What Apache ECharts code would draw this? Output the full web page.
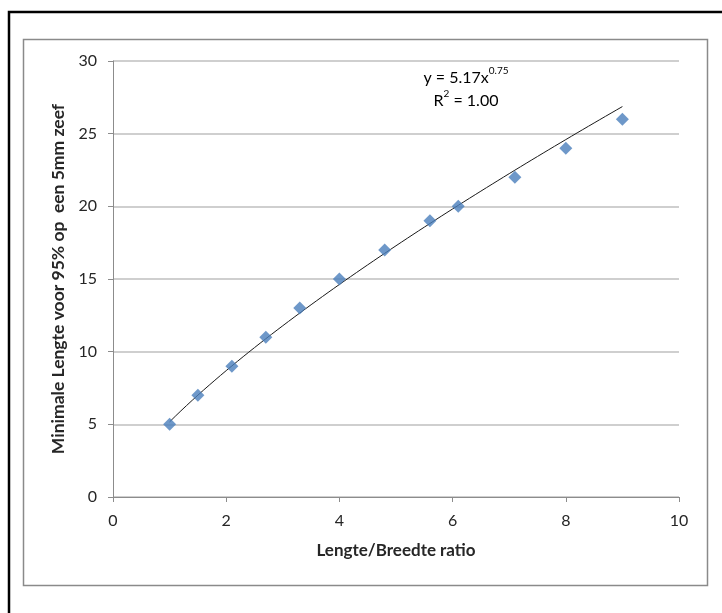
<!DOCTYPE html>
<html>
<head>
<meta charset="utf-8">
<script src="https://cdn.jsdelivr.net/npm/echarts@6/dist/echarts.min.js"></script>
<style>
  html, body { margin: 0; padding: 0; background: #fff; }
  #chart { width: 722px; height: 613px; }
</style>
</head>
<body>
<div id="chart"></div>
<script>
// Measured sieve data: length/width ratio vs. minimal length for 95% retention on a 5 mm sieve
const ratio     = [1, 1.5, 2.1, 2.7, 3.3, 4, 4.8, 5.6, 6.1, 7.1, 8, 9];
const minLength = [5, 7, 9, 11, 13, 15, 17, 19, 20, 22, 24, 26];

// Power trendline y = a * x^b, as reported on the chart
const fitA = 5.17;
const fitB = 0.75;
const fitR2 = '1.00';

const xTicks = [0, 2, 4, 6, 8, 10];
const yTicks = [0, 5, 10, 15, 20, 25, 30];

const xTitle = 'Lengte/Breedte ratio';
const yTitle = 'Minimale Lengte voor 95% op  een 5mm zeef';

const scatterData = ratio.map((x, i) => [x, minLength[i]]);

// Trendline sampled over the measured x range
const trendData = [];
const xStart = ratio[0], xEnd = ratio[ratio.length - 1];
const steps = 80;
for (let i = 0; i <= steps; i++) {
  const x = xStart + (xEnd - xStart) * i / steps;
  trendData.push([x, fitA * Math.pow(x, fitB)]);
}

const FONT = 'Lato, "Open Sans", sans-serif';
const TEXT = '#262626';

const chart = echarts.init(document.getElementById('chart'), null, { renderer: 'canvas' });

chart.setOption({
  animation: false,
  backgroundColor: '#ffffff',
  grid: { left: 113, right: 43, top: 61, bottom: 116, containLabel: false },
  xAxis: {
    type: 'value',
    min: xTicks[0],
    max: xTicks[xTicks.length - 1],
    interval: 2,
    name: xTitle,
    nameLocation: 'middle',
    nameGap: 45,
    nameTextStyle: { fontFamily: FONT, fontSize: 17, fontWeight: 'bold', color: TEXT },
    axisLine: { show: true, onZero: false, lineStyle: { color: '#8c8c8c', width: 1 } },
    axisTick: { show: true, inside: false, length: 5, lineStyle: { color: '#8c8c8c' } },
    axisLabel: { fontFamily: FONT, fontSize: 16, color: TEXT, margin: 16 },
    splitLine: { show: false }
  },
  yAxis: {
    type: 'value',
    min: yTicks[0],
    max: yTicks[yTicks.length - 1],
    interval: 5,
    name: yTitle,
    nameLocation: 'middle',
    nameGap: 44,
    nameRotate: 90,
    nameTextStyle: { fontFamily: FONT, fontSize: 17.5, fontWeight: 'bold', color: TEXT },
    axisLine: { show: true, lineStyle: { color: '#8c8c8c', width: 1 } },
    axisTick: { show: true, inside: false, length: 5, lineStyle: { color: '#8c8c8c' } },
    axisLabel: { fontFamily: FONT, fontSize: 16, color: TEXT, margin: 16 },
    splitLine: { show: true, lineStyle: { color: '#bfbfbf', width: 1.5 } }
  },
  graphic: [
    // outer black frame
    {
      type: 'rect', silent: true, z: 100,
      shape: { x: 9, y: 12, width: 730, height: 620 },
      style: { fill: 'none', stroke: '#000', lineWidth: 2.5 }
    },
    // chart area border
    {
      type: 'rect', silent: true, z: 100,
      shape: { x: 23.5, y: 39.5, width: 684, height: 546 },
      style: { fill: 'none', stroke: '#8a8a8a', lineWidth: 1.5 }
    },
    // trendline label
    {
      type: 'text', silent: true, z: 100,
      x: 466, y: 66,
      style: {
        text: '{m|y = 5.17x}{s|0.75}\n{m|R}{s|2}{m| = ' + fitR2 + '}',
        align: 'center',
        verticalAlign: 'top',
        lineHeight: 23,
        rich: {
          m: { fontFamily: FONT, fontSize: 16, color: TEXT, lineHeight: 23 },
          s: { fontFamily: FONT, fontSize: 10, color: '#555', verticalAlign: 'top', lineHeight: 16 }
        }
      }
    }
  ],
  series: [
    {
      name: 'Trendline',
      type: 'line',
      data: trendData,
      showSymbol: false,
      smooth: false,
      lineStyle: { color: '#1a1a1a', width: 1 },
      z: 2
    },
    {
      name: 'Data',
      type: 'scatter',
      data: scatterData,
      symbol: 'diamond',
      symbolSize: [13, 13],
      itemStyle: { color: '#4a7ebb' },
      z: 3
    }
  ]
});
</script>
</body>
</html>
